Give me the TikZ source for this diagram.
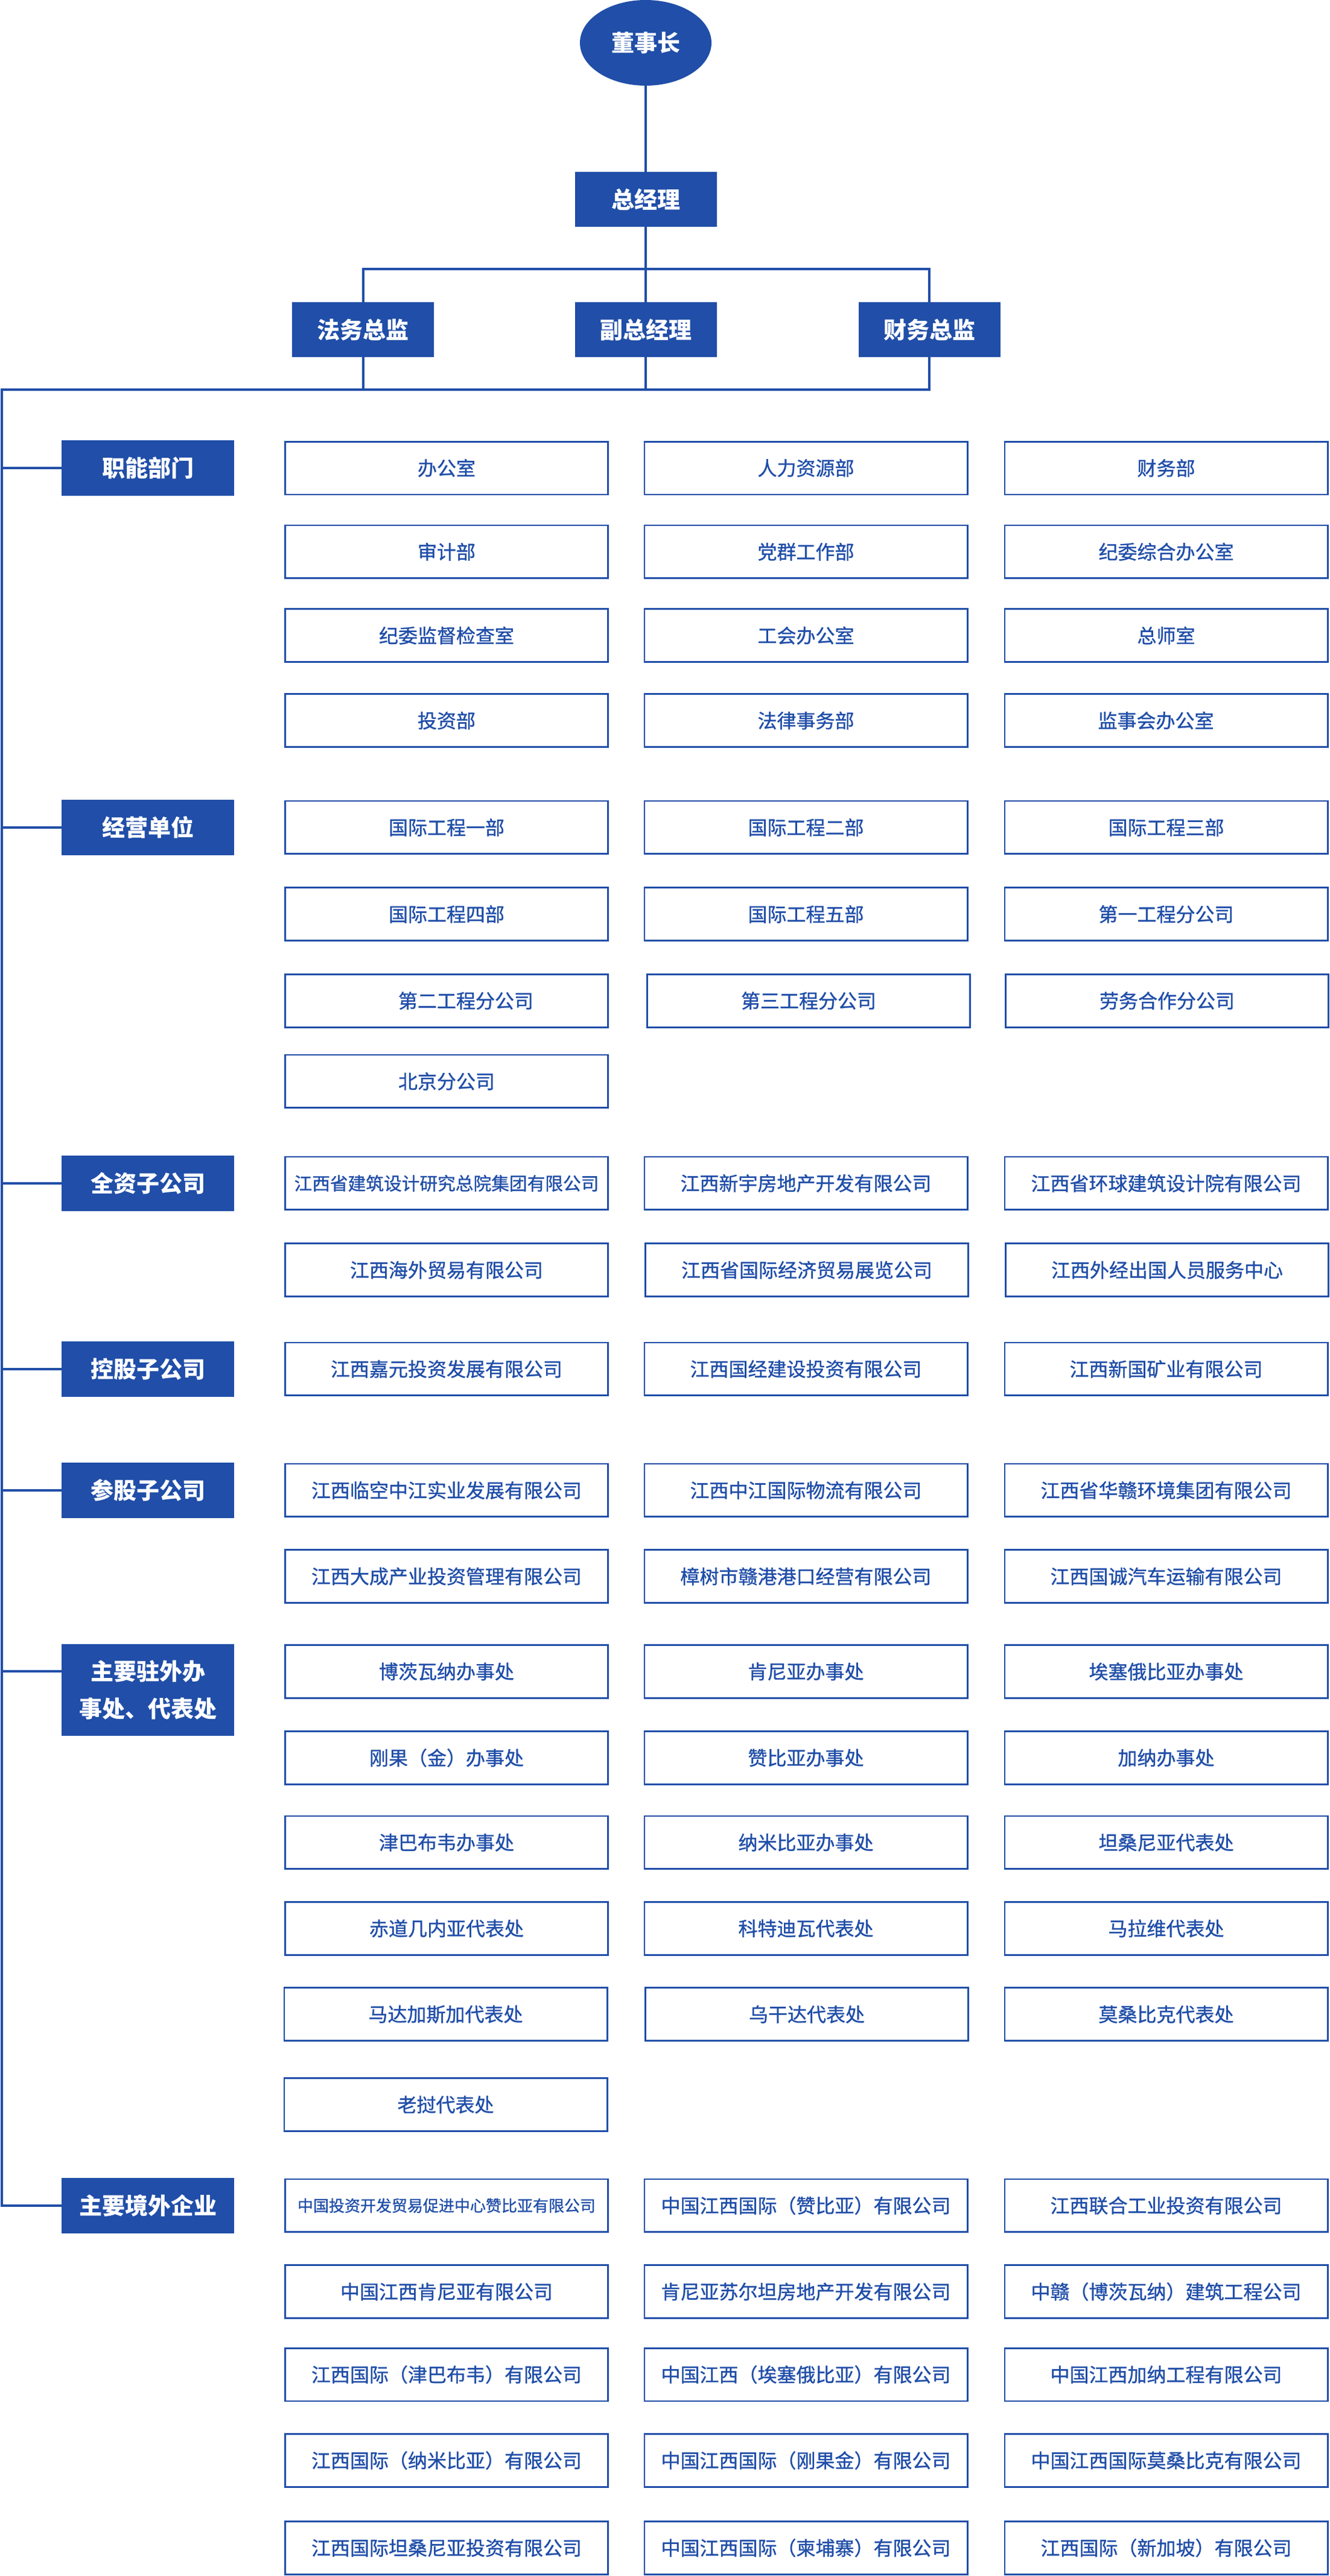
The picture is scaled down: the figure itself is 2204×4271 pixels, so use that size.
\documentclass[tikz,border=0pt]{standalone}
\usepackage{fontspec}
\setmainfont{Noto Sans CJK SC}
\newfontfamily\cellfont[FakeBold=1]{Noto Sans CJK SC}
\usetikzlibrary{shapes.geometric}
\definecolor{cblue}{RGB}{32,78,168}
\begin{document}
\begin{tikzpicture}[x=0.5pt,y=-0.5pt,
  cell/.style={draw=cblue, line width=1.4pt, minimum width=267.6pt, minimum height=43.9pt, inner sep=0pt, text=cblue, font=\cellfont\fontsize{16pt}{18pt}\selectfont},
  lbl/.style={fill=cblue, minimum width=143pt, minimum height=46pt, inner sep=0pt, text=white, font=\bfseries\fontsize{19pt}{31pt}\selectfont, align=center},
  topbox/.style={fill=cblue, minimum width=117.5pt, minimum height=45.5pt, inner sep=0pt, text=white, font=\bfseries\fontsize{19pt}{22pt}\selectfont},
  conn/.style={draw=cblue, line width=2pt, line join=miter}]
\useasboundingbox (0,0) rectangle (2204,4271);

% top hierarchy
\node[ellipse, fill=cblue, minimum width=109pt, minimum height=71pt, inner sep=0pt, text=white, font=\bfseries\fontsize{19pt}{22pt}\selectfont] (dsz) at (1070,71) {董事长};
\node[topbox] (zjl) at (1070,330.5) {总经理};
\node[topbox] (fw) at (601.5,546.5) {法务总监};
\node[topbox] (fz) at (1070,546.5) {副总经理};
\node[topbox] (cw) at (1540,546.5) {财务总监};
\coordinate (j1) at (1070,446);
\coordinate (ttop) at (2.5,646);

% labels
\node[lbl] (l1) at (245,776) {职能部门};
\node[lbl] (l2) at (245,1371.9) {经营单位};
\node[lbl] (l3) at (245,1961.9) {全资子公司};
\node[lbl] (l4) at (245,2269.8) {控股子公司};
\node[lbl] (l5) at (245,2470.9) {参股子公司};
\node[lbl, minimum height=76pt] (l6) at (245,2802) {主要驻外办\\事处、代表处};
\node[lbl] (l7) at (245,3656.8) {主要境外企业};

% 职能部门
\node[cell] (f11) at (740,776) {办公室};
\node[cell] (f12) at (1335.5,776) {人力资源部};
\node[cell] (f13) at (1932.5,776) {财务部};
\node[cell] (f21) at (740,914.8) {审计部};
\node[cell] (f22) at (1335.5,914.8) {党群工作部};
\node[cell] (f23) at (1932.5,914.8) {纪委综合办公室};
\node[cell] (f31) at (740,1053.7) {纪委监督检查室};
\node[cell] (f32) at (1335.5,1053.7) {工会办公室};
\node[cell] (f33) at (1932.5,1053.7) {总师室};
\node[cell] (f41) at (740,1194.7) {投资部};
\node[cell] (f42) at (1335.5,1194.7) {法律事务部};
\node[cell] (f43) at (1932.5,1194.7) {监事会办公室\hspace*{17pt}};

% 经营单位
\node[cell] (j11) at (740,1371.9) {国际工程一部};
\node[cell] (j12) at (1335.5,1371.9) {国际工程二部};
\node[cell] (j13) at (1932.5,1371.9) {国际工程三部};
\node[cell] (j21) at (740,1515.7) {国际工程四部};
\node[cell] (j22) at (1335.5,1515.7) {国际工程五部};
\node[cell] (j23) at (1932.5,1515.7) {第一工程分公司};
\node[cell] (j31) at (740,1659.2) {\hspace*{32pt}第二工程分公司};
\node[cell] (j32) at (1340,1659.2) {第三工程分公司};
\node[cell] (j33) at (1934,1659.2) {劳务合作分公司};
\node[cell] (j41) at (740,1792.8) {北京分公司};

% 全资子公司
\node[cell, font=\cellfont\fontsize{14.85pt}{17pt}\selectfont] (q11) at (740,1961.9) {江西省建筑设计研究总院集团有限公司};
\node[cell] (q12) at (1335.5,1961.9) {江西新宇房地产开发有限公司};
\node[cell] (q13) at (1932.5,1961.9) {江西省环球建筑设计院有限公司};
\node[cell] (q21) at (740,2105.7) {江西海外贸易有限公司};
\node[cell] (q22) at (1337,2105.7) {江西省国际经济贸易展览公司};
\node[cell] (q23) at (1934,2105.7) {江西外经出国人员服务中心};

% 控股子公司
\node[cell] (k11) at (740,2269.8) {江西嘉元投资发展有限公司};
\node[cell] (k12) at (1335.5,2269.8) {江西国经建设投资有限公司};
\node[cell] (k13) at (1932.5,2269.8) {江西新国矿业有限公司};

% 参股子公司
\node[cell] (c11) at (740,2470.9) {江西临空中江实业发展有限公司};
\node[cell] (c12) at (1335.5,2470.9) {江西中江国际物流有限公司};
\node[cell] (c13) at (1932.5,2470.9) {江西省华赣环境集团有限公司};
\node[cell] (c21) at (740,2613.6) {江西大成产业投资管理有限公司};
\node[cell] (c22) at (1335.5,2613.6) {樟树市赣港港口经营有限公司};
\node[cell] (c23) at (1932.5,2613.6) {江西国诚汽车运输有限公司};

% 主要驻外办事处、代表处
\node[cell] (z11) at (740,2771.4) {博茨瓦纳办事处};
\node[cell] (z12) at (1335.5,2771.4) {肯尼亚办事处};
\node[cell] (z13) at (1932.5,2771.4) {埃塞俄比亚办事处};
\node[cell] (z21) at (740,2914.5) {刚果（金）办事处};
\node[cell] (z22) at (1335.5,2914.5) {赞比亚办事处};
\node[cell] (z23) at (1932.5,2914.5) {加纳办事处};
\node[cell] (z31) at (740,3054.9) {津巴布韦办事处};
\node[cell] (z32) at (1335.5,3054.9) {纳米比亚办事处};
\node[cell] (z33) at (1932.5,3054.9) {坦桑尼亚代表处};
\node[cell] (z41) at (740,3197.3) {赤道几内亚代表处};
\node[cell] (z42) at (1335.5,3197.3) {科特迪瓦代表处};
\node[cell] (z43) at (1932.5,3197.3) {马拉维代表处};
\node[cell] (z51) at (738.5,3339.7) {马达加斯加代表处};
\node[cell] (z52) at (1337,3339.7) {乌干达代表处};
\node[cell] (z53) at (1932.5,3339.7) {莫桑比克代表处};
\node[cell] (z61) at (738.5,3489.5) {老挝代表处};

% 主要境外企业
\node[cell, font=\cellfont\fontsize{13pt}{15pt}\selectfont] (w11) at (740,3656.8) {中国投资开发贸易促进中心赞比亚有限公司};
\node[cell] (w12) at (1335.5,3656.8) {中国江西国际（赞比亚）有限公司};
\node[cell] (w13) at (1932.5,3656.8) {江西联合工业投资有限公司};
\node[cell] (w21) at (740,3799.5) {中国江西肯尼亚有限公司};
\node[cell] (w22) at (1335.5,3799.5) {肯尼亚苏尔坦房地产开发有限公司};
\node[cell] (w23) at (1932.5,3799.5) {中赣（博茨瓦纳）建筑工程公司};
\node[cell] (w31) at (740,3937) {江西国际（津巴布韦）有限公司};
\node[cell] (w32) at (1335.5,3937) {中国江西（埃塞俄比亚）有限公司};
\node[cell] (w33) at (1932.5,3937) {中国江西加纳工程有限公司};
\node[cell] (w41) at (740,4079.4) {江西国际（纳米比亚）有限公司};
\node[cell] (w42) at (1335.5,4079.4) {中国江西国际（刚果金）有限公司};
\node[cell] (w43) at (1932.5,4079.4) {中国江西国际莫桑比克有限公司};
\node[cell] (w51) at (740,4224.4) {江西国际坦桑尼亚投资有限公司};
\node[cell] (w52) at (1335.5,4224.4) {中国江西国际（柬埔寨）有限公司};
\node[cell] (w53) at (1932.5,4224.4) {江西国际（新加坡）有限公司};

% connectors
\draw[conn] (dsz) -- (zjl);
\draw[conn] (zjl) -- (fz);
\draw[conn] (fw.north) -- (fw.north |- j1) -- (cw.north |- j1) -- (cw.north);
\draw[conn] (fw.south) -- (fw.south |- ttop);
\draw[conn] (fz.south) -- (fz.south |- ttop);
\draw[conn] (cw.south) |- (ttop) -- (ttop |- l7.west) -- (l7.west);
\draw[conn] (ttop |- l1.west) -- (l1.west);
\draw[conn] (ttop |- l2.west) -- (l2.west);
\draw[conn] (ttop |- l3.west) -- (l3.west);
\draw[conn] (ttop |- l4.west) -- (l4.west);
\draw[conn] (ttop |- l5.west) -- (l5.west);
\draw[conn] (ttop |- z11) -- (l6.west |- z11);
\end{tikzpicture}
\end{document}
